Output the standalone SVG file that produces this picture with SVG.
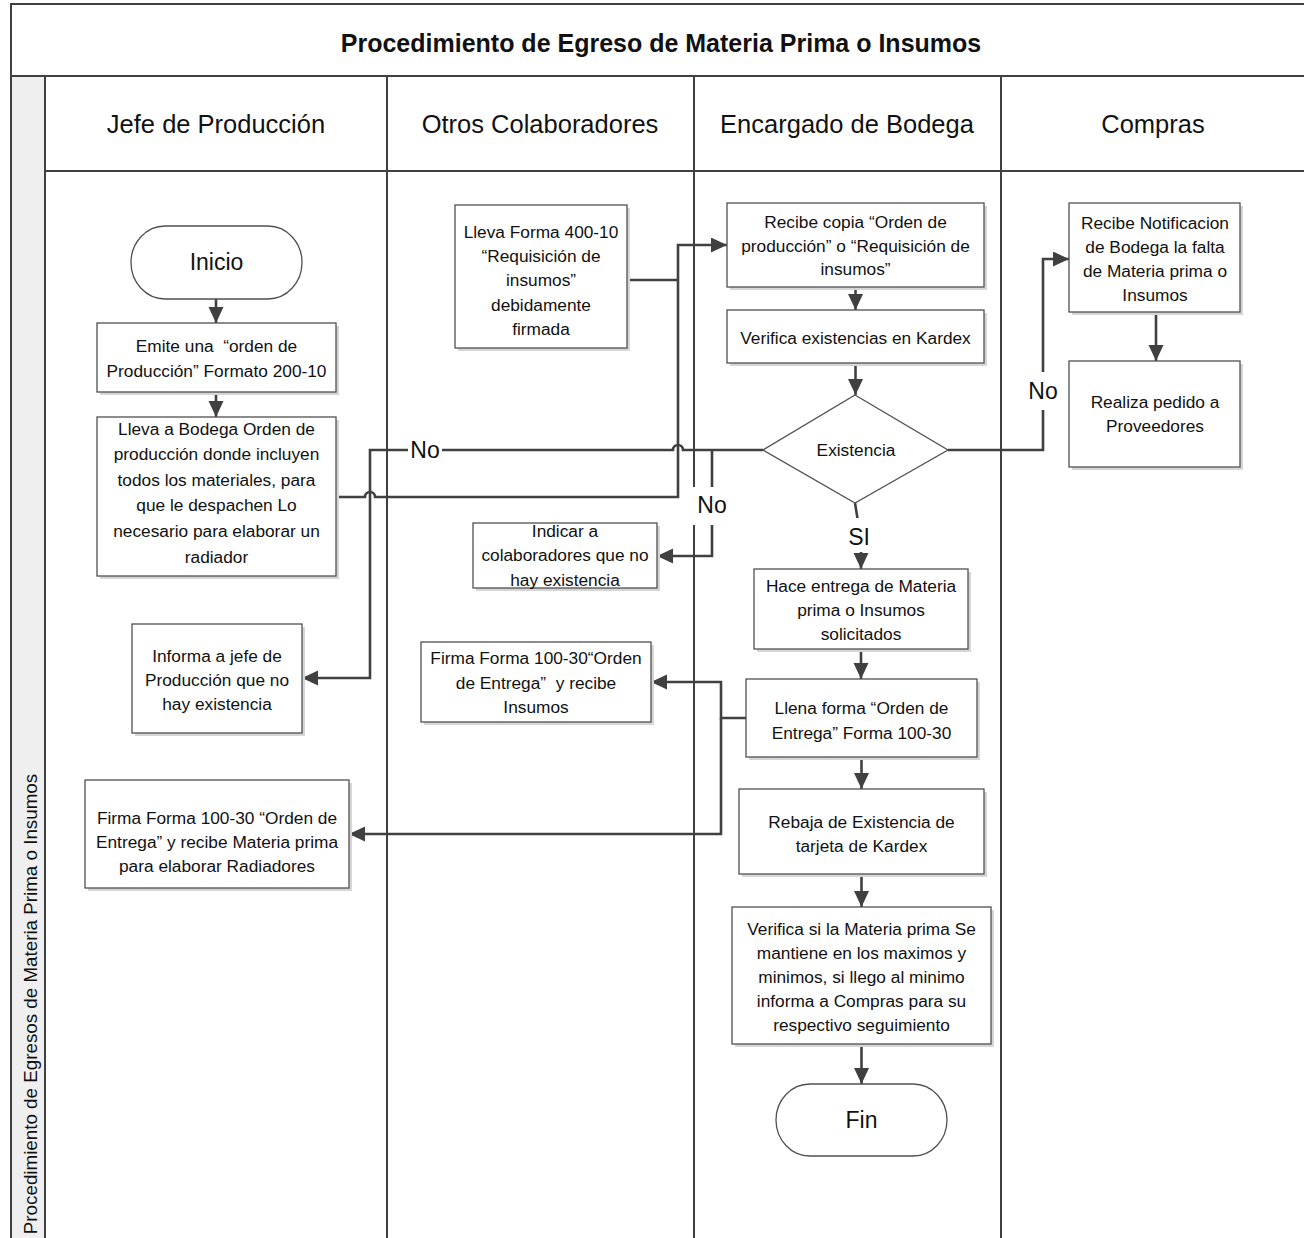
<svg xmlns="http://www.w3.org/2000/svg" width="1304" height="1238" viewBox="0 0 1304 1238">
  <style>
    text { font-family: "Liberation Sans", Arial, sans-serif; fill: #111; text-anchor: middle; dominant-baseline: central; white-space: pre; }
    .title { font-size: 25px; font-weight: bold; }
    .lane { font-size: 25.5px; }
    .pool { font-size: 18.8px; }
    .t { font-size: 17.3px; }
    .big { font-size: 23px; }
    .frame { fill: none; stroke: #404040; stroke-width: 2; }
    .box { fill: #fff; stroke: #505050; stroke-width: 1.3; }
    .shadow { fill: #d6d6d6; }
    .term { fill: #fff; stroke: #505050; stroke-width: 1.3; }
    .conn { fill: none; stroke: #404040; stroke-width: 2.6; }
    .arrow { marker-end: url(#ah); }
    .lblbg { fill: #fff; }
  </style>
  <defs>
    <marker id="ah" markerUnits="userSpaceOnUse" markerWidth="17" markerHeight="16" refX="16" refY="7.5" orient="auto">
      <path d="M0,0 L16,7.5 L0,15 Z" fill="#404040"/>
    </marker>
  </defs>

  <!-- pool frame, title row and swimlanes -->
  <g id="pool">
    <rect x="0" y="0" width="1304" height="1238" fill="#fff"/>
    <rect x="11" y="76" width="34" height="1162" fill="#efefef"/>
    <path class="frame" d="M11,1238 V4 H1304 M11,76 H1304 M45,76 V1238 M45,171 H1304 M387,76 V1238 M694,76 V1238 M1001,76 V1238"/>
    <text class="title" x="661" y="43">Procedimiento de Egreso de Materia Prima o Insumos</text>
    <text class="lane" x="216" y="124">Jefe de Producción</text>
    <text class="lane" x="540" y="124">Otros Colaboradores</text>
    <text class="lane" x="847" y="124">Encargado de Bodega</text>
    <text class="lane" x="1153" y="124">Compras</text>
    <text class="pool" transform="translate(30,1004) rotate(-90)">Procedimiento de Egresos de Materia Prima o Insumos</text>
  </g>

  <!-- connectors -->
  <g id="connectors">
    <path class="conn arrow" d="M216,299 V323"/>
    <path class="conn arrow" d="M216,392 V417"/>
    <path class="conn arrow" d="M336,497 H365 A5,5 0 0 1 375,497 H678 V245 H727"/>
    <path class="conn" d="M627,280 H678"/>
    <path class="conn arrow" d="M855.5,287 V310"/>
    <path class="conn arrow" d="M855.5,363 V395"/>
    <path class="conn arrow" d="M763,450 H683 A5,5 0 0 0 673,450 H370 V678 H302"/>
    <path class="conn arrow" d="M712,450 V556 H657"/>
    <path class="conn arrow" d="M948,450 H1043 V259 H1069"/>
    <path class="conn arrow" d="M1156,312 V361"/>
    <path class="conn arrow" d="M855,503 L861,540 V569"/>
    <path class="conn arrow" d="M861,649 V679"/>
    <path class="conn arrow" d="M746,718 H721 V682 H651"/>
    <path class="conn arrow" d="M721,718 V834 H349"/>
    <path class="conn arrow" d="M861.5,757 V789"/>
    <path class="conn arrow" d="M861.5,874 V907"/>
    <path class="conn arrow" d="M861.5,1044 V1084"/>
    <!-- branch labels -->
    <rect class="lblbg" x="408" y="438" width="34" height="24"/>
    <text class="big" x="425" y="450">No</text>
    <rect class="lblbg" x="693" y="487" width="37" height="38"/>
    <text class="big" x="712" y="505">No</text>
    <rect class="lblbg" x="1026" y="372" width="34" height="38"/>
    <text class="big" x="1043" y="391">No</text>
    <rect class="lblbg" x="845" y="518" width="28" height="34"/>
    <text class="big" x="859" y="537">SI</text>
  </g>

  <!-- Jefe de Producción -->
  <g id="inicio">
    <rect class="term" x="131" y="226" width="171" height="73" rx="34" ry="36.5"/>
    <text class="big" x="216.5" y="262">Inicio</text>
  </g>
  <g id="emite-orden">
    <rect class="shadow" x="100" y="326" width="239" height="69"/>
    <rect class="box" x="97" y="323" width="239" height="69"/>
    <text class="t" x="216.5" y="346">Emite una  “orden de</text>
    <text class="t" x="216.5" y="371">Producción” Formato 200-10</text>
  </g>
  <g id="lleva-bodega">
    <rect class="shadow" x="100" y="420" width="239" height="159"/>
    <rect class="box" x="97" y="417" width="239" height="159"/>
    <text class="t" x="216.5" y="429">Lleva a Bodega Orden de</text>
    <text class="t" x="216.5" y="454">producción donde incluyen</text>
    <text class="t" x="216.5" y="480">todos los materiales, para</text>
    <text class="t" x="216.5" y="505">que le despachen Lo</text>
    <text class="t" x="216.5" y="531">necesario para elaborar un</text>
    <text class="t" x="216.5" y="557">radiador</text>
  </g>
  <g id="informa-jefe">
    <rect class="shadow" x="135" y="627" width="170" height="109"/>
    <rect class="box" x="132" y="624" width="170" height="109"/>
    <text class="t" x="217" y="656">Informa a jefe de</text>
    <text class="t" x="217" y="680">Producción que no</text>
    <text class="t" x="217" y="704">hay existencia</text>
  </g>
  <g id="firma-jefe">
    <rect class="shadow" x="88" y="783" width="264" height="108"/>
    <rect class="box" x="85" y="780" width="264" height="108"/>
    <text class="t" x="217" y="818">Firma Forma 100-30 “Orden de</text>
    <text class="t" x="217" y="842">Entrega” y recibe Materia prima</text>
    <text class="t" x="217" y="866">para elaborar Radiadores</text>
  </g>

  <!-- Otros Colaboradores -->
  <g id="lleva-forma">
    <rect class="shadow" x="458" y="208" width="172" height="143"/>
    <rect class="box" x="455" y="205" width="172" height="143"/>
    <text class="t" x="541" y="232">Lleva Forma 400-10</text>
    <text class="t" x="541" y="256">“Requisición de</text>
    <text class="t" x="541" y="280">insumos”</text>
    <text class="t" x="541" y="305">debidamente</text>
    <text class="t" x="541" y="329">firmada</text>
  </g>
  <g id="indicar-colaboradores">
    <rect class="shadow" x="476" y="526" width="184" height="65"/>
    <rect class="box" x="473" y="523" width="184" height="65"/>
    <text class="t" x="565" y="531">Indicar a</text>
    <text class="t" x="565" y="555">colaboradores que no</text>
    <text class="t" x="565" y="580">hay existencia</text>
  </g>
  <g id="firma-otros">
    <rect class="shadow" x="424" y="645" width="230" height="80"/>
    <rect class="box" x="421" y="642" width="230" height="80"/>
    <text class="t" x="536" y="658">Firma Forma 100-30“Orden</text>
    <text class="t" x="536" y="683">de Entrega”  y recibe</text>
    <text class="t" x="536" y="707">Insumos</text>
  </g>

  <!-- Encargado de Bodega -->
  <g id="recibe-copia">
    <rect class="shadow" x="730" y="206" width="257" height="84"/>
    <rect class="box" x="727" y="203" width="257" height="84"/>
    <text class="t" x="855.5" y="222">Recibe copia “Orden de</text>
    <text class="t" x="855.5" y="246">producción” o “Requisición de</text>
    <text class="t" x="855.5" y="269">insumos”</text>
  </g>
  <g id="verifica-kardex">
    <rect class="shadow" x="730" y="313" width="257" height="53"/>
    <rect class="box" x="727" y="310" width="257" height="53"/>
    <text class="t" x="855.5" y="338">Verifica existencias en Kardex</text>
  </g>
  <g id="existencia">
    <path class="term" d="M855,395 L948,450 L855,503 L763,450 Z"/>
    <text class="t" x="856" y="450">Existencia</text>
  </g>
  <g id="hace-entrega">
    <rect class="shadow" x="757" y="572" width="214" height="80"/>
    <rect class="box" x="754" y="569" width="214" height="80"/>
    <text class="t" x="861" y="586">Hace entrega de Materia</text>
    <text class="t" x="861" y="610">prima o Insumos</text>
    <text class="t" x="861" y="634">solicitados</text>
  </g>
  <g id="llena-forma">
    <rect class="shadow" x="749" y="682" width="231" height="78"/>
    <rect class="box" x="746" y="679" width="231" height="78"/>
    <text class="t" x="861.5" y="708">Llena forma “Orden de</text>
    <text class="t" x="861.5" y="733">Entrega” Forma 100-30</text>
  </g>
  <g id="rebaja-existencia">
    <rect class="shadow" x="742" y="792" width="245" height="85"/>
    <rect class="box" x="739" y="789" width="245" height="85"/>
    <text class="t" x="861.5" y="822">Rebaja de Existencia de</text>
    <text class="t" x="861.5" y="846">tarjeta de Kardex</text>
  </g>
  <g id="verifica-minimos">
    <rect class="shadow" x="735" y="910" width="259" height="137"/>
    <rect class="box" x="732" y="907" width="259" height="137"/>
    <text class="t" x="861.5" y="929">Verifica si la Materia prima Se</text>
    <text class="t" x="861.5" y="953">mantiene en los maximos y</text>
    <text class="t" x="861.5" y="977">minimos, si llego al minimo</text>
    <text class="t" x="861.5" y="1001">informa a Compras para su</text>
    <text class="t" x="861.5" y="1025">respectivo seguimiento</text>
  </g>
  <g id="fin">
    <rect class="term" x="776" y="1084" width="171" height="72" rx="34" ry="36"/>
    <text class="big" x="861.5" y="1120">Fin</text>
  </g>

  <!-- Compras -->
  <g id="recibe-notificacion">
    <rect class="shadow" x="1072" y="206" width="171" height="109"/>
    <rect class="box" x="1069" y="203" width="171" height="109"/>
    <text class="t" x="1155" y="223">Recibe Notificacion</text>
    <text class="t" x="1155" y="247">de Bodega la falta</text>
    <text class="t" x="1155" y="271">de Materia prima o</text>
    <text class="t" x="1155" y="295">Insumos</text>
  </g>
  <g id="realiza-pedido">
    <rect class="shadow" x="1072" y="364" width="171" height="106"/>
    <rect class="box" x="1069" y="361" width="171" height="106"/>
    <text class="t" x="1155" y="402">Realiza pedido a</text>
    <text class="t" x="1155" y="426">Proveedores</text>
  </g>
</svg>
